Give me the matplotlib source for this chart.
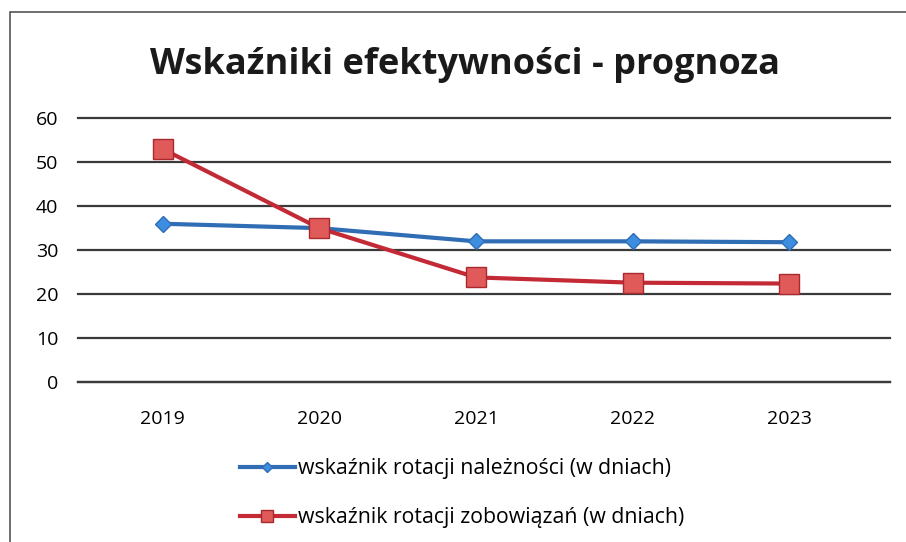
import matplotlib
matplotlib.use('Agg')
from matplotlib import pyplot as plt
from matplotlib.patches import Rectangle

years = ['2019', '2020', '2021', '2022', '2023']
naleznosci = [36, 35, 32, 32, 31.8]
zobowiazania = [53, 35, 23.8, 22.6, 22.4]
y_ticks = [0, 10, 20, 30, 40, 50, 60]

title = 'Wskaźniki efektywności - prognoza'
label_blue = 'wskaźnik rotacji należności (w dniach)'
label_red = 'wskaźnik rotacji zobowiązań (w dniach)'

plt.rcParams['font.family'] = ['Open Sans', 'DejaVu Sans']

fig = plt.figure(figsize=(9.06, 5.42), dpi=100)
fig.patches.append(Rectangle((0.011, -0.05), 1.2, 1.028, transform=fig.transFigure,
                             fill=False, edgecolor='#555555', linewidth=1.2))

ax = fig.add_axes([0.086, 0.295, 0.896, 0.487])
x = range(len(years))
ax.plot(x, naleznosci, color='#2f6db5', linewidth=3, marker='D', markersize=8,
        markerfacecolor='#3d8ee0', markeredgecolor='#2f6db5', label=label_blue, zorder=3)
ax.plot(x, zobowiazania, color='#c42a36', linewidth=3, marker='s', markersize=14,
        markerfacecolor='#e05a5a', markeredgecolor='#a82a30', label=label_red, zorder=4)

ax.set_xlim(-0.54, 4.64)
ax.set_ylim(0, 60)
ax.set_yticks(y_ticks)
ax.set_yticklabels([str(v) for v in y_ticks], fontsize=14)
ax.set_xticks(list(x))
ax.set_xticklabels(years, fontsize=14)
ax.tick_params(axis='x', length=0, pad=20)
ax.tick_params(axis='y', length=0, pad=14)
ax.grid(axis='y', color='#3a3a3a', linewidth=1.6)
for gl in ax.get_ygridlines():
    gl.set_clip_on(False)
ax.set_axisbelow(True)
for side in ['top', 'right', 'left']:
    ax.spines[side].set_visible(False)
ax.spines['bottom'].set_color('#3a3a3a')
ax.spines['bottom'].set_linewidth(1.6)

fig.text(0.513, 0.88, title, ha='center', va='center', fontsize=26, fontweight='bold',
         color='#1a1a1a')

fig.legend(loc='center', bbox_to_anchor=(0.51, 0.09), ncol=1, frameon=False,
           fontsize=15.3, handlelength=2.6, labelspacing=1.3, handletextpad=0.15,
           markerscale=0.65)

fig.savefig('out.png', dpi=100)
